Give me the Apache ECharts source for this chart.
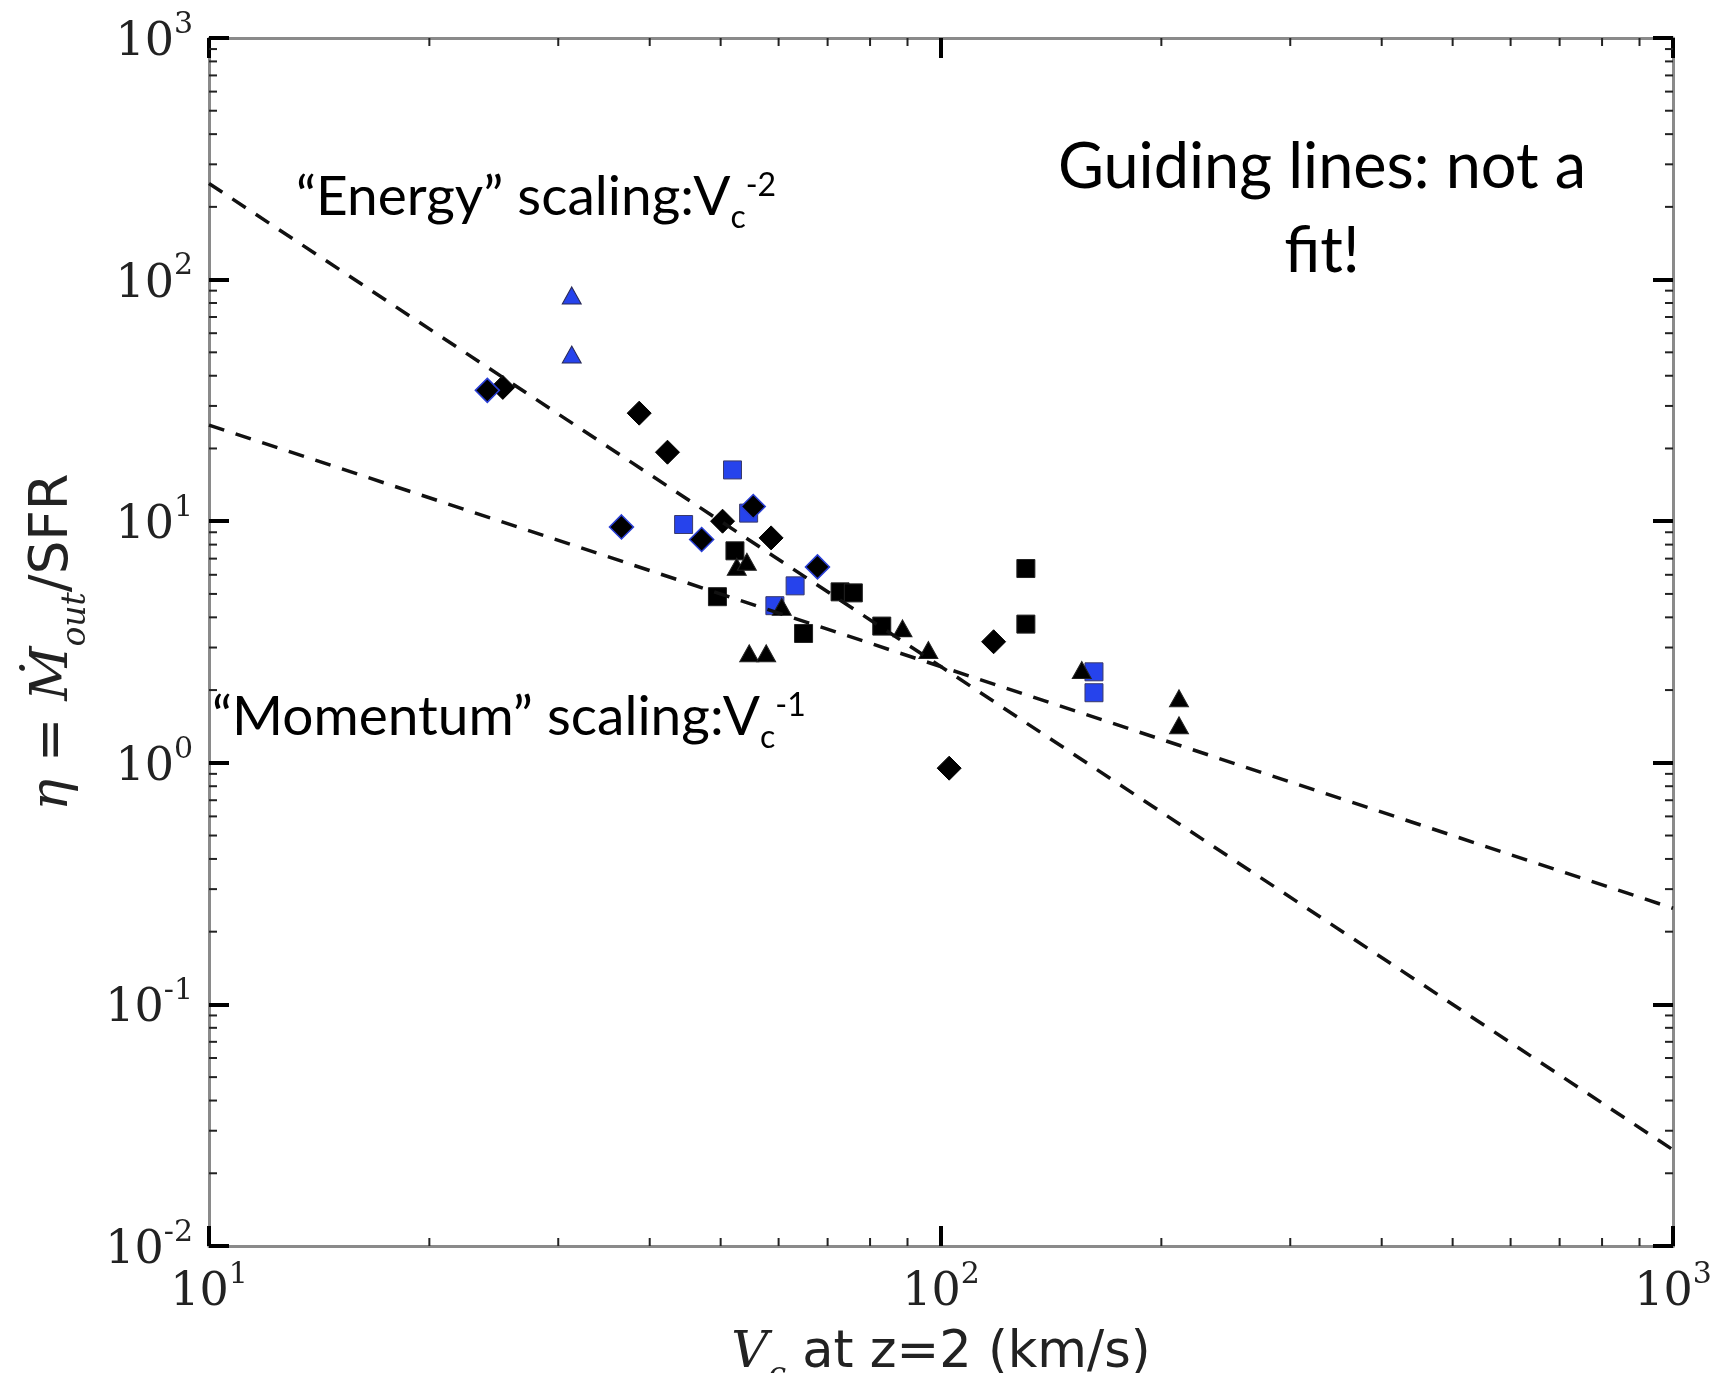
<!DOCTYPE html>
<html>
<head>
<meta charset="utf-8">
<title>Mass loading vs circular velocity</title>
<script src="https://cdn.jsdelivr.net/npm/echarts@6/dist/echarts.min.js"></script>
<style>
  html, body { margin: 0; padding: 0; background: #fff; }
  #main { width: 1713px; height: 1373px; }
</style>
</head>
<body>
<div id="main"></div>
<script>
  // points: [Vc (km/s), eta]
  var diamondsBlack = [[25.2, 35.8], [38.7, 28.0], [42.3, 19.3], [50.3, 10.0], [58.6, 8.53], [118, 3.17], [102.6, 0.95]];
  var diamondsBlueEdge = [[24.0, 34.8], [36.6, 9.47], [47.1, 8.4], [55.4, 11.5], [67.8, 6.47]];
  var squaresBlack = [[52.3, 7.54], [49.5, 4.87], [72.8, 5.10], [75.9, 5.05], [64.9, 3.43], [83.0, 3.68], [130.6, 6.37], [130.6, 3.75]];
  var squaresBlue = [[51.9, 16.3], [44.5, 9.69], [54.6, 10.8], [63.2, 5.40], [59.3, 4.47], [161.8, 2.38], [161.8, 1.95]];
  var trianglesBlack = [[52.6, 6.48], [54.3, 6.79], [54.7, 2.84], [57.7, 2.84], [60.6, 4.42], [88.6, 3.60], [96.1, 2.93], [155.7, 2.42], [211.4, 1.85], [211.4, 1.43]];
  var trianglesBlue = [[31.3, 86], [31.3, 49]];

  // guiding lines, end points only (straight in log-log)
  var energyLine = [[10, 250], [1000, 0.025]];
  var momentumLine = [[10, 25], [1000, 0.25]];

  var xMin = 10, xMax = 1000;
  var yMin = 0.01, yMax = 1000;
  var xMinor = [20, 30, 40, 50, 60, 70, 80, 90, 200, 300, 400, 500, 600, 700, 800, 900];
  var yMinor = [0.02, 0.03, 0.04, 0.05, 0.06, 0.07, 0.08, 0.09,
    0.2, 0.3, 0.4, 0.5, 0.6, 0.7, 0.8, 0.9,
    2, 3, 4, 5, 6, 7, 8, 9,
    20, 30, 40, 50, 60, 70, 80, 90,
    200, 300, 400, 500, 600, 700, 800, 900];

  var blue = '#2643ec';
  var serif = 'DejaVu Serif';
  var sans = 'Lato';

  function powLabel(v) {
    var k = Math.round(Math.log10(v));
    return '{b|10}{e|' + k + '}';
  }
  var labelRich = {
    b: {fontFamily: serif, fontSize: 46, color: '#222', verticalAlign: 'bottom'},
    e: {fontFamily: serif, fontSize: 30, color: '#222', verticalAlign: 'bottom', padding: [0, 0, 26, 0]}
  };

  function axisBase(pos, showLabel) {
    return {
      type: 'log',
      logBase: 10,
      position: pos,
      axisLine: {show: true, lineStyle: {color: '#8a8a8a', width: 3}},
      axisTick: {show: true, inside: true, length: 20, lineStyle: {color: '#000', width: 4}},
      axisLabel: {show: showLabel, formatter: powLabel, rich: labelRich, margin: 16},
      splitLine: {show: false},
      minorTick: {show: false}
    };
  }

  var xBottom = axisBase('bottom', true);
  xBottom.min = xMin; xBottom.max = xMax; xBottom.splitNumber = 2;
  xBottom.axisLabel.margin = 14;
  xBottom.name = '{v|V}{c|c}{n| at z=2 (km/s)}';
  xBottom.nameLocation = 'middle';
  xBottom.nameGap = 82;
  xBottom.nameTextStyle = {
    rich: {
      v: {fontFamily: serif, fontStyle: 'italic', fontSize: 51, color: '#222', verticalAlign: 'top'},
      c: {fontFamily: serif, fontStyle: 'italic', fontSize: 32, color: '#222', verticalAlign: 'top', padding: [32, 0, 0, 0]},
      n: {fontFamily: 'DejaVu Sans', fontSize: 51, color: '#222', verticalAlign: 'top'}
    }
  };
  var xTop = axisBase('top', false);
  xTop.min = xMin; xTop.max = xMax; xTop.splitNumber = 2;

  var yLeft = axisBase('left', true);
  yLeft.min = yMin; yLeft.max = yMax; yLeft.splitNumber = 5;
  yLeft.name = '{g|η}{n| = }{m|Ṁ}{s|out}{n|/SFR}';
  yLeft.nameLocation = 'middle';
  yLeft.nameGap = 116;
  yLeft.nameTextStyle = {
    rich: {
      g: {fontFamily: serif, fontStyle: 'italic', fontSize: 53, color: '#222', verticalAlign: 'top'},
      m: {fontFamily: serif, fontStyle: 'italic', fontSize: 53, color: '#222', verticalAlign: 'top'},
      s: {fontFamily: serif, fontStyle: 'italic', fontSize: 33, color: '#222', verticalAlign: 'top', padding: [33, 0, 0, 0]},
      n: {fontFamily: 'DejaVu Sans', fontSize: 53, color: '#222', verticalAlign: 'top'}
    }
  };
  var yRight = axisBase('right', false);
  yRight.min = yMin; yRight.max = yMax; yRight.splitNumber = 5;

  function minorTicksX(params, api) {
    var v = api.value(0);
    var b = api.coord([v, yMin]);
    var t = api.coord([v, yMax]);
    var st = {stroke: '#222', lineWidth: 2};
    return {type: 'group', children: [
      {type: 'line', shape: {x1: b[0], y1: b[1], x2: b[0], y2: b[1] - 8}, style: st},
      {type: 'line', shape: {x1: t[0], y1: t[1], x2: t[0], y2: t[1] + 8}, style: st}
    ]};
  }
  function minorTicksY(params, api) {
    var v = api.value(1);
    var l = api.coord([xMin, v]);
    var r = api.coord([xMax, v]);
    var st = {stroke: '#222', lineWidth: 2};
    return {type: 'group', children: [
      {type: 'line', shape: {x1: l[0], y1: l[1], x2: l[0] + 8, y2: l[1]}, style: st},
      {type: 'line', shape: {x1: r[0], y1: r[1], x2: r[0] - 8, y2: r[1]}, style: st}
    ]};
  }

  function scatter(data, symbol, size, fill, edge, edgeWidth, z) {
    return {
      type: 'scatter',
      data: data,
      symbol: symbol,
      symbolSize: size,
      z: z,
      itemStyle: {color: fill, borderColor: edge, borderWidth: edgeWidth, opacity: 1}
    };
  }

  var annoRich = {
    a: {fontFamily: sans, fontSize: 55, fill: '#000', verticalAlign: 'top'},
    c: {fontFamily: sans, fontSize: 32, fill: '#000', verticalAlign: 'top', padding: [32, 0, 0, 0]},
    e: {fontFamily: sans, fontSize: 32, fill: '#000', verticalAlign: 'top', padding: [0, 0, 0, 0]}
  };

  var chart = echarts.init(document.getElementById('main'));
  var option = {
    animation: false,
    backgroundColor: '#fff',
    grid: {left: 209, right: 40, top: 38, bottom: 127, outerBoundsMode: 'none', containLabel: false},
    xAxis: [xBottom, xTop],
    yAxis: [yLeft, yRight],
    series: [
      {type: 'custom', renderItem: minorTicksX, data: xMinor.map(function (v) { return [v, 1]; }), z: 1, silent: true},
      {type: 'custom', renderItem: minorTicksY, data: yMinor.map(function (v) { return [100, v]; }), z: 1, silent: true},
      scatter(squaresBlack, 'rect', 18, '#000', '#222', 1, 2),
      scatter(squaresBlue, 'rect', 18, blue, '#3a3a6a', 1, 2),
      scatter(trianglesBlack, 'triangle', [19, 17], '#000', '#222', 1, 3),
      scatter(trianglesBlue, 'triangle', [19, 17], blue, '#2a2a55', 1, 3),
      scatter(diamondsBlack, 'diamond', [24, 24], '#000', '#000', 1, 4),
      scatter(diamondsBlueEdge, 'diamond', [24, 24], '#000', '#2a3fd6', 1.5, 4),
      {
        type: 'line', data: energyLine, symbol: 'none', z: 5,
        lineStyle: {color: '#111', width: 3.5, type: [16, 12]}
      },
      {
        type: 'line', data: momentumLine, symbol: 'none', z: 5,
        lineStyle: {color: '#111', width: 3.5, type: [16, 12]}
      }
    ],
    graphic: [
      {
        type: 'text', left: 296, top: 170, z: 10,
        style: {text: '{a|“Energy” scaling:V}{c|c}{e|-2}', rich: annoRich}
      },
      {
        type: 'text', left: 212, top: 690, z: 10,
        style: {text: '{a|“Momentum” scaling:V}{c|c}{e|-1}', rich: annoRich}
      },
      {
        type: 'text', x: 1322, y: 126, z: 10,
        style: {
          text: 'Guiding lines: not a\nfit!',
          fontFamily: sans, fontSize: 63, lineHeight: 84,
          fill: '#000', align: 'center'
        }
      }
    ]
  };
  chart.setOption(option);
</script>
</body>
</html>
